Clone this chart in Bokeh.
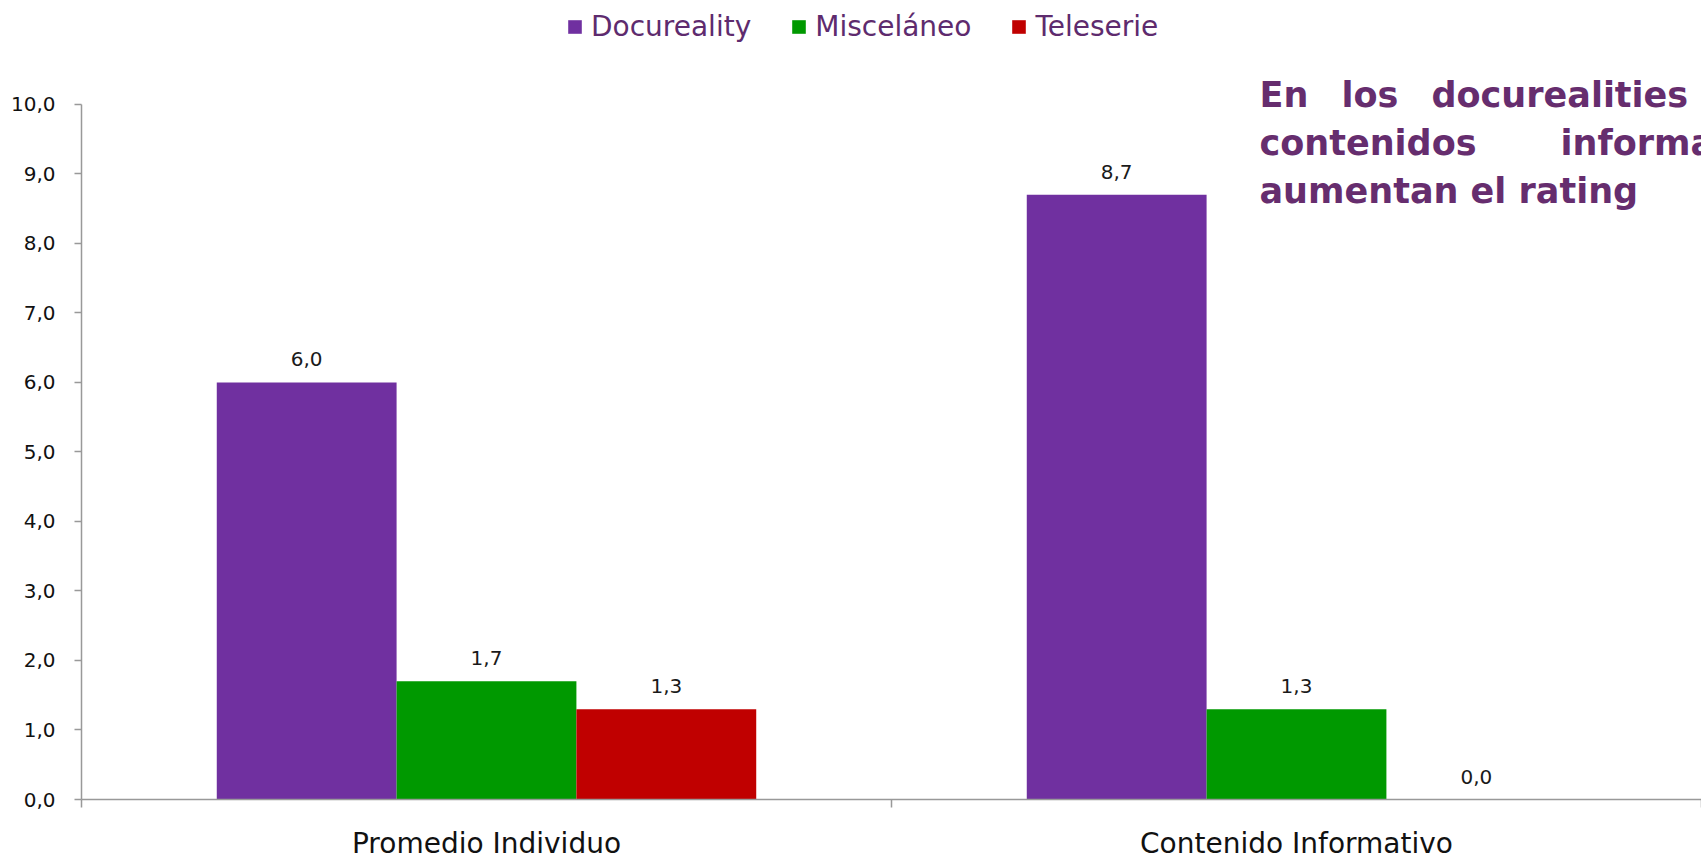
from bokeh.plotting import figure
from bokeh.models import (ColumnDataSource, Range1d, FixedTicker, LabelSet, Label,
                          Legend, LegendItem)
from bokeh.core.properties import value
from bokeh.transform import dodge
from bokeh.embed import file_html
from bokeh.resources import INLINE

categories = ["Promedio Individuo", "Contenido Informativo"]
series = ["Docureality", "Misceláneo", "Teleserie"]
docureality = [6.0, 8.7]
miscelaneo = [1.7, 1.3]
teleserie = [1.3, 0.0]
colors = ["#7030A0", "#009900", "#C00000"]
y_ticks = [0, 1, 2, 3, 4, 5, 6, 7, 8, 9, 10]

values = [docureality, miscelaneo, teleserie]
offsets = [-0.222, 0.0, 0.222]
bar_w = 0.222

x_centers = [i + 0.5 for i in range(len(categories))]

W, H = 1701, 862
# frame spans the full height above the x axis; 69.6 px per unit, axis drawn 0..10
p = figure(width=W, height=H, output_backend="svg", toolbar_location=None,
           x_range=Range1d(0, len(categories)), y_range=Range1d(0, 800 / 69.6),
           min_border_left=81, min_border_right=0, min_border_top=0,
           min_border_bottom=62)
p.outline_line_color = None
p.xgrid.grid_line_color = None
p.ygrid.grid_line_color = None
p.background_fill_color = "white"
p.border_fill_color = "white"

legend_items = []
for name, vals, col, off in zip(series, values, colors, offsets):
    src = ColumnDataSource(dict(x=x_centers, top=vals,
                                lab=[f"{v:.1f}".replace(".", ",") for v in vals]))
    r = p.vbar(x=dodge("x", off), top="top", width=bar_w, source=src,
               fill_color=col, line_color=None)
    legend_items.append(LegendItem(label=name, renderers=[r]))
    ls = LabelSet(x=dodge("x", off), y="top", text="lab", source=src,
                  text_align="center", text_baseline="middle", y_offset=23,
                  text_font=value("DejaVu Sans"), text_font_size=value("20px"),
                  text_color="#1a1a1a")
    p.add_layout(ls)

# axes
ax = p.xaxis[0]
ax.ticker = FixedTicker(ticks=x_centers, minor_ticks=[0, 1, 2])
ax.major_label_overrides = {x: c for x, c in zip(x_centers, categories)}
ax.major_tick_out = 0
ax.major_tick_in = 0
ax.minor_tick_out = 8
ax.minor_tick_in = 0
ax.minor_tick_line_color = "#999999"
ax.minor_tick_line_width = 1.5
ax.axis_line_color = "#999999"
ax.axis_line_width = 1.5
ax.major_label_standoff = 19
ax.major_label_text_font = "DejaVu Sans"
ax.major_label_text_font_size = "28px"
ax.major_label_text_color = "#111111"

ay = p.yaxis[0]
ay.bounds = (0, 10)
ay.ticker = FixedTicker(ticks=y_ticks)
ay.major_label_overrides = {t: f"{t},0" for t in y_ticks}
ay.major_tick_out = 7
ay.major_tick_in = 0
ay.minor_tick_out = 0
ay.minor_tick_in = 0
ay.major_tick_line_color = "#999999"
ay.major_tick_line_width = 1.5
ay.axis_line_color = "#999999"
ay.axis_line_width = 1.5
ay.major_label_standoff = 19
ay.major_label_text_font = "DejaVu Sans"
ay.major_label_text_font_size = "20px"
ay.major_label_text_color = "#111111"

legend = Legend(items=legend_items, orientation="horizontal", location=(485, 756),
                glyph_width=17, glyph_height=17, label_standoff=8, spacing=39,
                padding=0, margin=0, border_line_color=None, background_fill_alpha=0,
                label_text_font="DejaVu Sans", label_text_font_size="28px",
                label_text_color="#5E2B6E")
p.add_layout(legend)

# annotation text (justified in the original, runs past the right edge)
ann_color = "#662D6E"
words = [("En", 1178, 705), ("los", 1260, 705), ("docurealities", 1350, 705),
         ("contenidos", 1178, 657), ("informativos", 1479, 657),
         ("aumentan el rating", 1178, 609)]
for t, x, y in words:
    p.add_layout(Label(x=x, y=y, x_units="screen", y_units="screen", text=t,
                       text_font="DejaVu Sans", text_font_style="bold",
                       text_font_size="35px", text_color=ann_color,
                       text_baseline="alphabetic"))

open("out.html", "w").write(file_html(p, INLINE))
